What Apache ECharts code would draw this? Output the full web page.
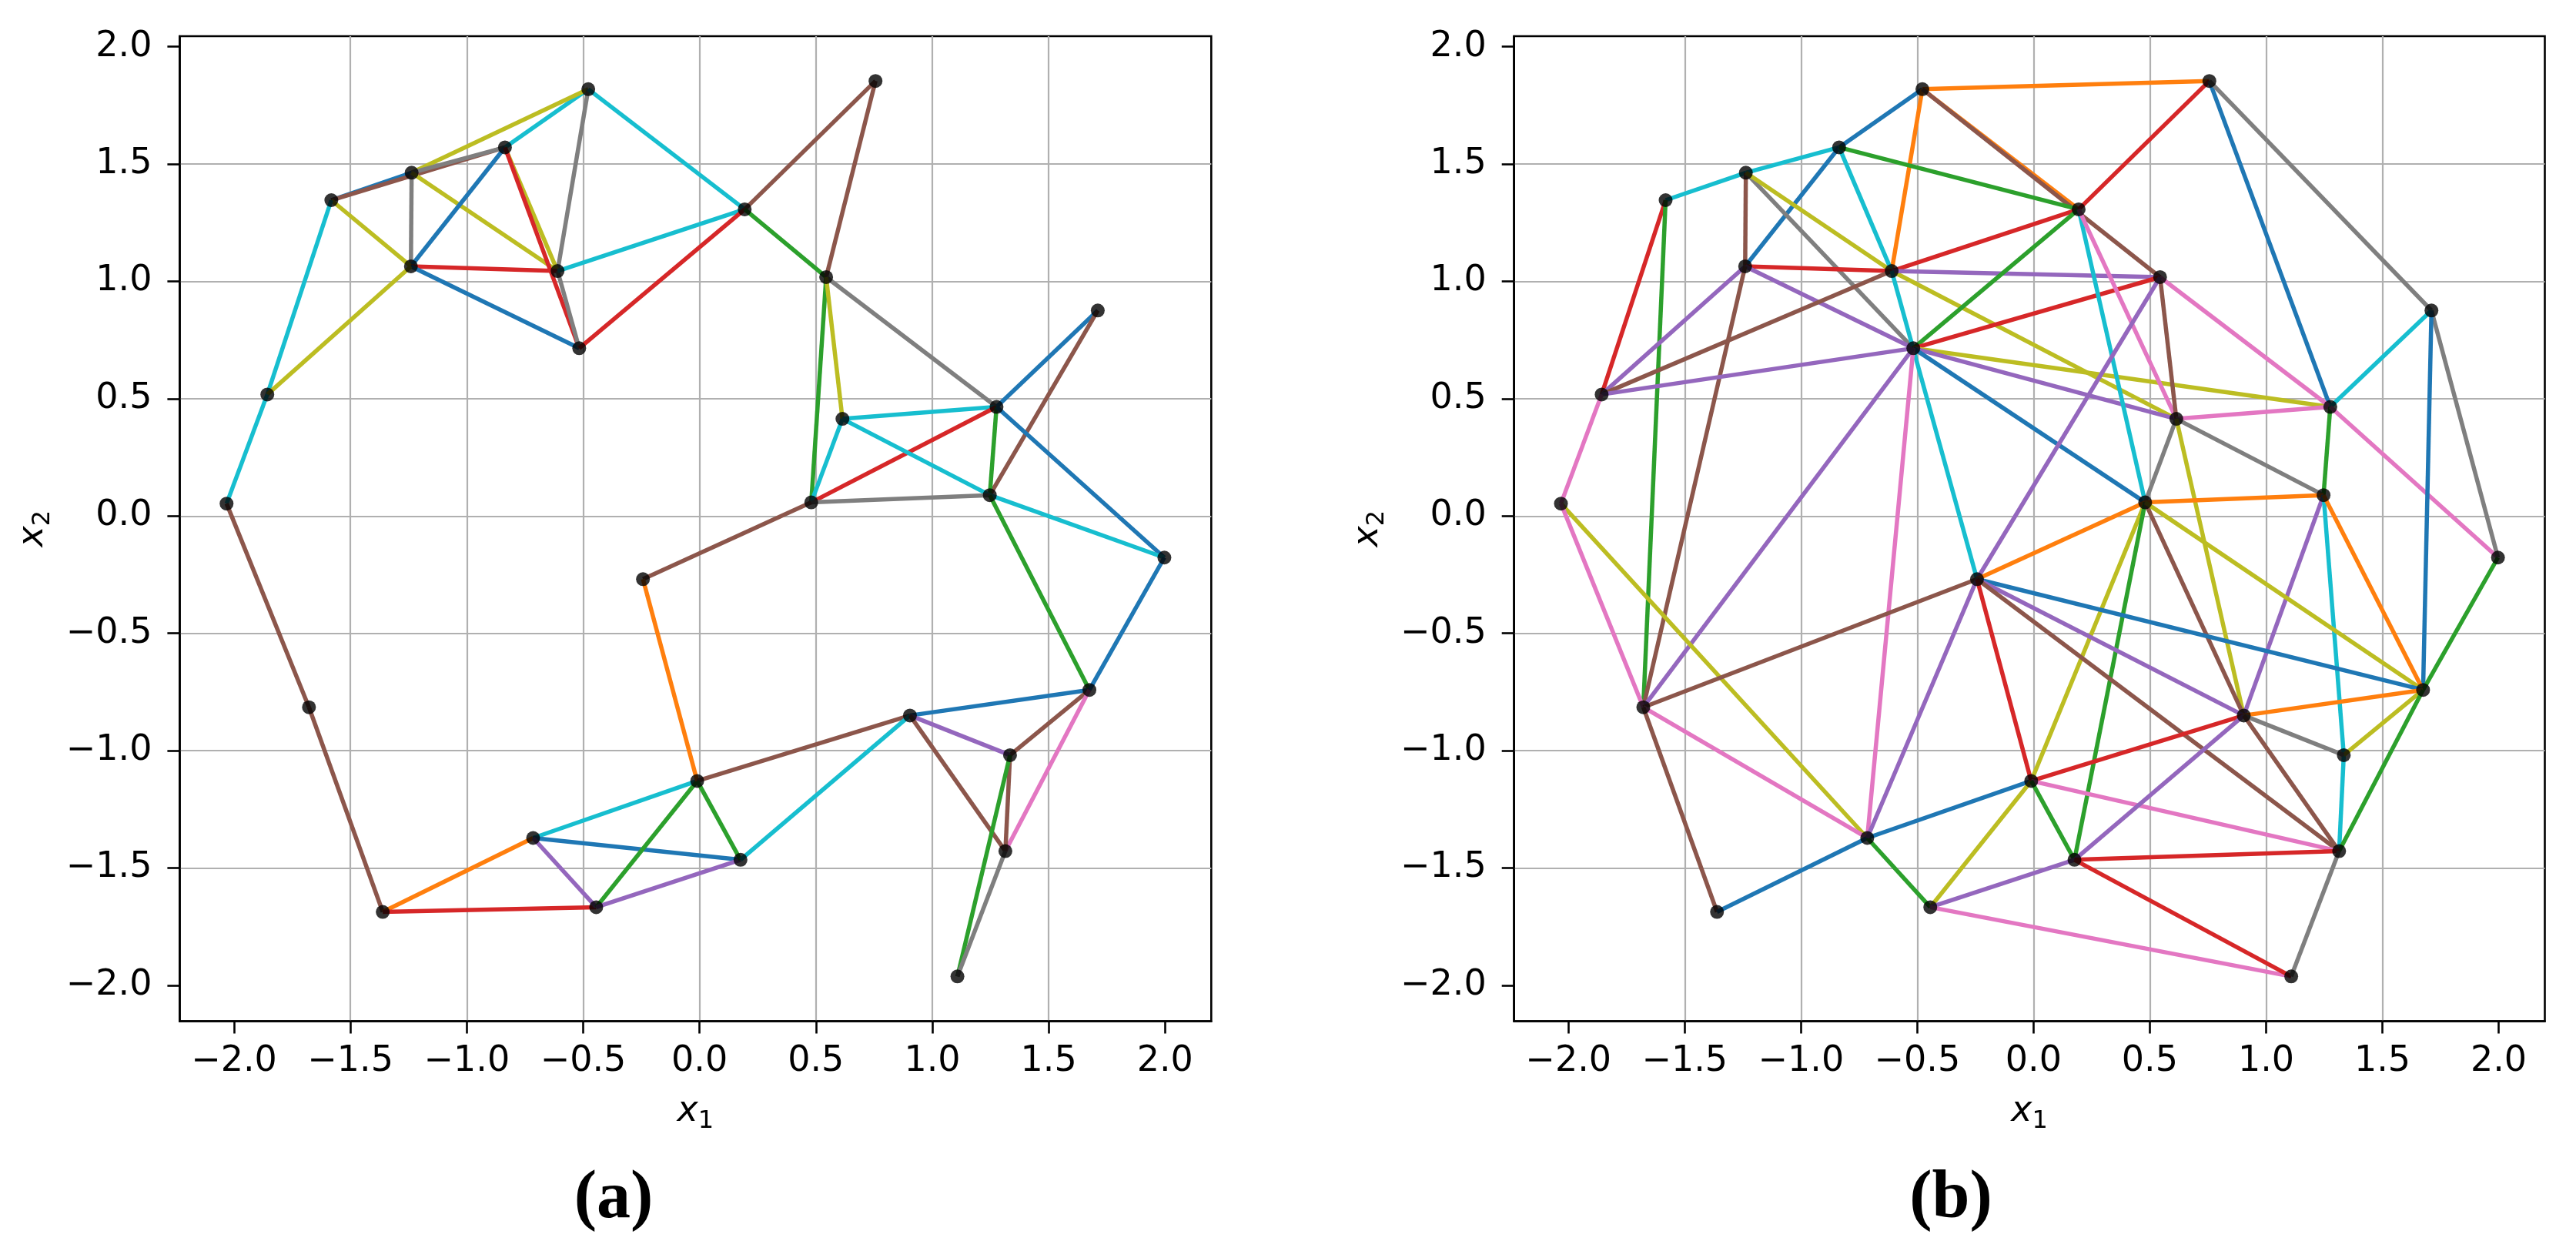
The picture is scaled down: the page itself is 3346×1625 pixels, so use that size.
<!DOCTYPE html>
<html>
<head>
<meta charset="utf-8">
<script src="https://cdn.jsdelivr.net/npm/echarts@6/dist/echarts.min.js"></script>
<style>
html,body{margin:0;padding:0;background:#fff;}
#chart{width:3346px;height:1625px;}
</style>
</head>
<body>
<div id="chart"></div>
<script>
// ---- point coordinates (shared by both panels) ----
const ptX = [-0.478, -0.836, -1.237, -1.582, -1.240, -0.610, -0.517, -1.857, -2.032, 0.756,
             0.194, 0.544, 1.711, 1.276, 0.614, 1.247, 0.480, 1.997, -1.678, -1.361,
             -0.715, -0.444, -0.243, -0.010, 1.675, 0.904, 1.334, 0.176, 1.314, 1.108];
const ptY = [1.819, 1.571, 1.463, 1.346, 1.064, 1.044, 0.715, 0.518, 0.053, 1.854,
             1.307, 1.018, 0.876, 0.465, 0.414, 0.089, 0.058, -0.177, -0.815, -1.687,
             -1.372, -1.667, -0.269, -1.129, -0.741, -0.850, -1.019, -1.465, -1.428, -1.962];

// ---- panel (a) edges (point index pairs) and their colours ----
const edgesA = [[0,1],[0,2],[0,5],[0,10],[2,3],[3,1],[1,2],[2,4],[2,5],[1,4],
                [1,5],[1,6],[3,4],[3,7],[4,5],[4,6],[4,7],[5,6],[5,10],[6,10],
                [7,8],[8,18],[10,9],[10,11],[9,11],[11,13],[11,16],[11,14],[12,13],[12,15],
                [13,14],[13,16],[13,15],[13,17],[14,16],[14,15],[15,17],[16,15],[16,22],[15,24],
                [17,24],[18,19],[19,20],[19,21],[20,23],[20,27],[20,21],[21,23],[21,27],[22,23],
                [23,25],[23,27],[24,25],[24,26],[24,28],[25,27],[25,26],[25,28],[26,28],[26,29],
                [28,29]];
const colorsA = ['cyan','olive','gray','cyan','blue','brown','gray','gray','olive','blue',
                 'olive','red','olive','cyan','red','blue','olive','gray','cyan','red',
                 'cyan','brown','brown','green','brown','gray','green','olive','blue','brown',
                 'cyan','red','green','blue','cyan','cyan','cyan','gray','brown','green',
                 'blue','brown','orange','red','cyan','blue','purple','green','purple','orange',
                 'brown','green','blue','brown','pink','cyan','purple','brown','brown','green',
                 'gray'];

// ---- panel (b) edges and their colours ----
const edgesB = [[0,9],[0,1],[0,5],[0,10],[0,11],[1,2],[2,3],[1,4],[1,5],[1,10],
                [2,4],[2,6],[2,5],[5,14],[3,7],[3,18],[4,5],[4,7],[4,6],[4,18],
                [5,7],[5,10],[5,11],[5,22],[6,7],[6,10],[6,11],[6,13],[6,14],[6,16],
                [6,20],[6,18],[7,8],[8,20],[8,18],[9,10],[9,13],[9,12],[10,16],[10,14],
                [11,14],[11,13],[11,22],[14,13],[14,15],[14,16],[14,25],[13,12],[13,15],[13,17],
                [12,17],[12,24],[15,16],[15,25],[15,26],[26,28],[15,24],[16,22],[16,23],[16,27],
                [16,25],[16,24],[18,22],[18,20],[18,19],[19,20],[20,23],[20,21],[20,22],[22,24],
                [22,25],[22,28],[22,23],[23,21],[23,25],[23,28],[23,27],[21,27],[21,29],[24,17],
                [24,25],[24,26],[24,28],[25,26],[25,27],[25,28],[27,28],[27,29],[28,29]];
const colorsB = ['orange','blue','orange','orange','brown','cyan','cyan','blue','cyan','green',
                 'brown','gray','olive','olive','red','green','red','purple','purple','brown',
                 'brown','red','purple','cyan','purple','green','red','olive','purple','blue',
                 'pink','purple','pink','olive','pink','red','blue','gray','cyan','pink',
                 'brown','pink','purple','pink','gray','gray','olive','cyan','green','pink',
                 'gray','blue','orange','purple','cyan','cyan','orange','orange','olive','green',
                 'brown','olive','brown','pink','brown','blue','blue','green','purple','blue',
                 'purple','brown','red','olive','red','pink','green','purple','pink','green',
                 'orange','olive','green','gray','purple','brown','red','red','gray'];

// ---- tick labels ----
const tickValues = [-2.0, -1.5, -1.0, -0.5, 0.0, 0.5, 1.0, 1.5, 2.0];
const panelLabels = ['(a)', '(b)'];

// ---- styles ----
const palette = {blue:'#1f77b4', orange:'#ff7f0e', green:'#2ca02c', red:'#d62728', purple:'#9467bd',
                 brown:'#8c564b', pink:'#e377c2', gray:'#7f7f7f', olive:'#bcbd22', cyan:'#17becf'};

function extent(arr){
  const mn = Math.min.apply(null, arr), mx = Math.max.apply(null, arr);
  const m = (mx - mn) * 0.05;
  return [mn - m, mx + m];
}
const xr = extent(ptX), yr = extent(ptY);

function fmt(v){
  if (Math.abs(v*2 - Math.round(v*2)) > 1e-6) return '';
  const s = Math.abs(v).toFixed(1);
  return v < -1e-9 ? '\u2212' + s : s;
}

const nameRich = {
  i:{fontFamily:'DejaVu Sans', fontStyle:'italic', fontSize:46, lineHeight:56, color:'#000'},
  s:{fontFamily:'DejaVu Sans', fontSize:32, lineHeight:32, verticalAlign:'bottom', color:'#000'}
};

function makeAxis(gridIndex, isX){
  const r = isX ? xr : yr;
  return {
    type:'value', gridIndex:gridIndex, min:r[0], max:r[1],
    minInterval:0.5, maxInterval:0.5,
    axisLine:{show:true, onZero:false, lineStyle:{color:'#000', width:2.6}},
    axisTick:{show:true, customValues:tickValues, length:16, inside:false, lineStyle:{color:'#000', width:2.6}},
    axisLabel:{customValues:tickValues, formatter:fmt, fontFamily:'DejaVu Sans', fontSize:46,
               lineHeight:46, color:'#000', margin: isX ? 30 : 36, showMinLabel:true, showMaxLabel:true},
    splitLine:{show:true, showMinLine:false, showMaxLine:false, lineStyle:{color:'#b0b0b0', width:2.2}},
    name: isX ? '{i|x}{s|1}' : '{i|x}{s|2}',
    nameLocation:'middle', nameGap: isX ? 90 : 162,
    nameTextStyle:{rich:nameRich}
  };
}

function edgeData(edges, colors){
  return edges.map(function(e, i){
    return {coords:[[ptX[e[0]], ptY[e[0]]], [ptX[e[1]], ptY[e[1]]]],
            lineStyle:{color: palette[colors[i]]}};
  });
}
const pts = ptX.map(function(x, i){ return [x, ptY[i]]; });

const gridBase = {top:47, height:1279.5, show:true, borderColor:'#000', borderWidth:2.6, backgroundColor:'rgba(0,0,0,0)'};

const option = {
  animation:false,
  backgroundColor:'#fff',
  grid:[
    Object.assign({left:233.4, width:1339.9}, gridBase),
    Object.assign({left:1966.7, width:1338.8}, gridBase)
  ],
  xAxis:[makeAxis(0, true), makeAxis(1, true)],
  yAxis:[makeAxis(0, false), makeAxis(1, false)],
  series:[
    {type:'lines', coordinateSystem:'cartesian2d', xAxisIndex:0, yAxisIndex:0, silent:true, z:3,
     lineStyle:{width:5.5, opacity:1, curveness:0}, data:edgeData(edgesA, colorsA)},
    {type:'scatter', xAxisIndex:0, yAxisIndex:0, symbolSize:18, itemStyle:{color:'#000'}, z:5, silent:true, data:pts},
    {type:'lines', coordinateSystem:'cartesian2d', xAxisIndex:1, yAxisIndex:1, silent:true, z:3,
     lineStyle:{width:5.5, opacity:1, curveness:0}, data:edgeData(edgesB, colorsB)},
    {type:'scatter', xAxisIndex:1, yAxisIndex:1, symbolSize:18, itemStyle:{color:'#000'}, z:5, silent:true, data:pts}
  ],
  graphic:[
    {type:'text', x:797, y:1558, style:{text:panelLabels[0], fontFamily:'Liberation Serif', fontWeight:'bold', fontSize:88, fill:'#000', align:'center', verticalAlign:'middle'}},
    {type:'text', x:2534, y:1558, style:{text:panelLabels[1], fontFamily:'Liberation Serif', fontWeight:'bold', fontSize:88, fill:'#000', align:'center', verticalAlign:'middle'}}
  ]
};

const chart = echarts.init(document.getElementById('chart'), null, {renderer:'canvas'});
chart.setOption(option);
</script>
</body>
</html>
